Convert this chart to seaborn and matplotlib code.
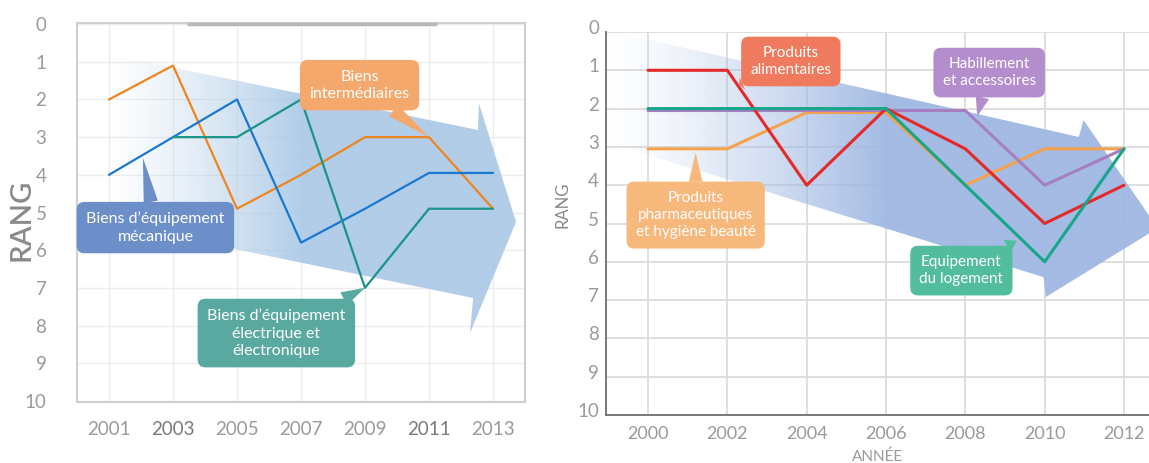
import numpy as np
import pandas as pd
import matplotlib
matplotlib.use("Agg")
import matplotlib.pyplot as plt
import matplotlib.transforms as mtransforms
from matplotlib.patches import Polygon
from matplotlib.colors import to_rgb
import seaborn as sns

# left panel : industry sectors
years_left = [2001, 2003, 2005, 2007, 2009, 2011, 2013]
intermediaires = [2.0, 1.1, 4.9, 4.0, 3.0, 3.0, 4.9]
mecanique = [4.0, 3.0, 2.0, 5.8, 4.9, 3.95, 3.95]
electrique = [np.nan, 3.0, 3.0, 2.0, 7.0, 4.9, 4.9]

# right panel : consumer goods
years_right = [2000, 2002, 2004, 2006, 2008, 2010, 2012]
alimentaires = [1.0, 1.0, 4.0, 2.0, 3.05, 5.0, 4.0]
habillement = [2.05, 2.05, 2.05, 2.05, 2.05, 4.0, 3.05]
pharma = [3.05, 3.05, 2.1, 2.1, 4.0, 3.05, 3.05]
logement = [2.0, 2.0, 2.0, 2.0, 4.0, 6.0, 3.05]

ranks = list(range(0, 11))

sns.set_theme(style="white")
plt.rcParams['font.family'] = ['Lato', 'DejaVu Sans']

GREY = "#9a9a9a"


def draw_arrow(ax, pts, color, x_full, alpha_max):
    poly = Polygon(pts, closed=True, fc="none", ec="none")
    ax.add_patch(poly)
    xs = [p[0] for p in pts]
    ys = [p[1] for p in pts]
    x0, x1 = min(xs), max(xs)
    n = 400
    xx = np.linspace(x0, x1, n)
    a = np.clip((xx - x0) / (x_full - x0), 0, 1) ** 1.3 * alpha_max
    img = np.zeros((2, n, 4))
    img[..., :3] = to_rgb(color)
    img[..., 3] = a
    im = ax.imshow(img, extent=(x0, x1, max(ys), min(ys)), aspect="auto",
                   interpolation="bilinear", zorder=1)
    im.set_clip_path(poly)


def label_box(ax, text, box_xy, tip_xy, color, size, tail=0.9):
    ax.annotate(text, xy=tip_xy, xytext=box_xy, ha="center", va="center",
                color="white", fontsize=size, linespacing=1.3, zorder=6,
                bbox=dict(boxstyle="round,pad=0.6,rounding_size=0.5", fc=color, ec="none"),
                arrowprops=dict(arrowstyle=f"wedge,tail_width={tail},shrink_factor=0.5",
                                fc=color, ec="none", shrinkA=0, shrinkB=0))


fig = plt.figure(figsize=(11.49, 4.63), dpi=100)
ax1 = fig.add_axes([77 / 1149, 1 - 402 / 463, 448 / 1149, 379 / 463])
ax2 = fig.add_axes([606 / 1149, 1 - 415 / 463, 543 / 1149, 383 / 463])

# ---------- left ----------
df_left = pd.DataFrame({
    "annee": years_left * 3,
    "rang": intermediaires + mecanique + electrique,
    "serie": ["intermediaires"] * 7 + ["mecanique"] * 7 + ["electrique"] * 7,
})
pal_left = {"intermediaires": "#f0851f", "mecanique": "#1b78d0", "electrique": "#1a9488"}

draw_arrow(ax1, [(2000.81, 0.77), (2012.53, 2.81), (2012.56, 2.10), (2013.72, 5.25),
                 (2012.28, 8.20), (2012.38, 7.27), (2000.81, 5.25)],
           "#a9c8e6", 2007.0, 0.9)

sns.lineplot(data=df_left, x="annee", y="rang", hue="serie", palette=pal_left,
             estimator=None, sort=False, linewidth=1.6, legend=False, ax=ax1, zorder=3)

ax1.set_xlim(2000, 2014)
ax1.set_ylim(10.03, -0.03)
ax1.set_xticks(years_left)
ax1.set_yticks(ranks)
ax1.grid(True, color="#ededed", lw=1)
ax1.set_axisbelow(True)
for s in ax1.spines.values():
    s.set_color("#cfcfcf")
    s.set_linewidth(1.5)
ax1.plot([2003.45, 2011.25], [0, 0], color="#b8b8b8", lw=2.5, solid_capstyle="butt",
         clip_on=False, zorder=4)
ax1.tick_params(axis="x", direction="inout", length=9, width=3.5, color="black",
                labelcolor=GREY, labelsize=13.5, pad=9)
ax1.tick_params(axis="y", length=0, labelcolor=GREY, labelsize=13.5, pad=22)
for lab in ax1.get_xticklabels():
    if lab.get_text() in ("2003", "2011"):
        lab.set_color("#7a7a7a")
ax1.set_xlabel("")
ax1.set_ylabel("RANG", fontsize=21, color="#8a8a8a", fontweight="semibold")
ax1.yaxis.set_label_coords(-0.095, 0.48)

label_box(ax1, "Biens\nintermédiaires", (2008.83, 1.62), (2011.0, 3.0), "#f4a86b", 11.5)
label_box(ax1, "Biens d’équipement\nmécanique", (2002.45, 5.4), (2002.06, 3.55), "#6c8fca", 11.5)
label_box(ax1, "Biens d’équipement\nélectrique et\nélectronique", (2006.23, 8.2), (2009.0, 7.0),
          "#5aa9a0", 11.5)

# ---------- right ----------
df_right = pd.DataFrame({
    "annee": years_right * 4,
    "rang": pharma + habillement + alimentaires + logement,
    "serie": ["pharma"] * 7 + ["habillement"] * 7 + ["alimentaires"] * 7 + ["logement"] * 7,
})
pal_right = {"pharma": "#f5a24c", "habillement": "#a57fc1",
             "alimentaires": "#e42a28", "logement": "#17a68a"}

draw_arrow(ax2, [(1998.94, -0.05), (2010.86, 2.74), (2010.98, 2.30), (2012.85, 5.12),
                 (2010.03, 6.92), (2009.97, 6.40), (1998.94, 2.87)],
           "#9fb8e3", 2006.0, 0.95)

sns.lineplot(data=df_right, x="annee", y="rang", hue="serie", palette=pal_right,
             hue_order=["pharma", "habillement", "alimentaires", "logement"],
             estimator=None, sort=False, linewidth=2.2, legend=False, ax=ax2, zorder=3)

ax2.set_xlim(1998.94, 2012.63)
ax2.set_ylim(10, 0)
ax2.set_xticks(years_right)
ax2.set_yticks(ranks)
ax2.grid(True, color="#dcdcdc", lw=1.3)
ax2.set_axisbelow(True)
ax2.spines["top"].set_visible(False)
ax2.spines["right"].set_visible(False)
for k in ("left", "bottom"):
    ax2.spines[k].set_color("#707070")
    ax2.spines[k].set_linewidth(1.3)
ax2.tick_params(axis="both", direction="inout", length=4, width=4, color="#151515",
                labelcolor=GREY, labelsize=13.5, pad=3)
ax2.tick_params(axis="x", labelsize=13, pad=6)
offset = mtransforms.ScaledTranslation(0, 5 / 100, fig.dpi_scale_trans)
for lab in ax2.get_yticklabels():
    lab.set_transform(lab.get_transform() + offset)
ax2.set_xlabel("ANNÉE", fontsize=11, color=GREY, labelpad=5)
ax2.set_ylabel("RANG", fontsize=12, color="#8a8a8a")
ax2.yaxis.set_label_coords(-0.065, 0.55)

label_box(ax2, "Produits\nalimentaires", (2003.6, 0.77), (2002.3, 1.38), "#ef7a5d", 11)
label_box(ax2, "Habillement\net accessoires", (2008.6, 1.06), (2008.3, 2.2), "#b48dcc", 11)
label_box(ax2, "Produits\npharmaceutiques\net hygiène beauté", (2001.2, 4.78), (2001.2, 3.15),
          "#f7b87c", 11)
label_box(ax2, "Equipement\ndu logement", (2007.9, 6.23), (2009.3, 5.45), "#52bd9e", 11)

fig.savefig("out.png", dpi=100)
